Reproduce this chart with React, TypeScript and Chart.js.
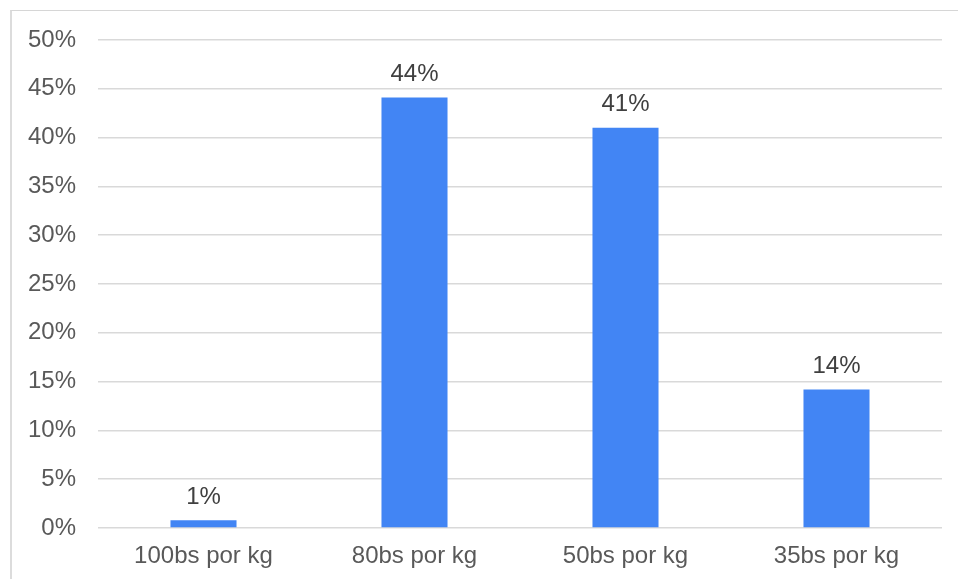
import React, { useEffect, useRef } from "react";
import { Chart, registerables } from "chart.js";

Chart.register(...registerables);

// Share of answers per price bracket
const categories = ["100bs por kg", "80bs por kg", "50bs por kg", "35bs por kg"];
const shares = [0.8, 44.1, 41.0, 14.2];
const yTicks = [0, 5, 10, 15, 20, 25, 30, 35, 40, 45, 50];

const FONT = "'Liberation Sans', Arial, sans-serif";

const valueLabels = {
  id: "valueLabels",
  afterDatasetsDraw(chart: any) {
    const { ctx } = chart;
    const meta = chart.getDatasetMeta(0);
    const data = chart.data.datasets[0].data as number[];
    ctx.save();
    ctx.font = `24px ${FONT}`;
    ctx.fillStyle = "#404040";
    ctx.textAlign = "center";
    ctx.textBaseline = "middle";
    meta.data.forEach((bar: any, i: number) => {
      ctx.fillText(`${Math.round(data[i])}%`, bar.x, bar.y - 23);
    });
    ctx.restore();
  },
};

export default function App() {
  const ref = useRef<HTMLCanvasElement>(null);

  useEffect(() => {
    if (!ref.current) return;
    const chart = new Chart(ref.current, {
      type: "bar",
      data: {
        labels: categories,
        datasets: [
          {
            data: shares,
            backgroundColor: "#4285F4",
            borderWidth: 0,
            barPercentage: 0.313,
            categoryPercentage: 1,
          },
        ],
      },
      options: {
        responsive: false,
        animation: false,
        devicePixelRatio: 1,
        layout: { padding: { left: 0, right: 16, top: 40, bottom: 0 } },
        plugins: {
          legend: { display: false },
          tooltip: { enabled: false },
        },
        scales: {
          x: {
            grid: { display: false, drawTicks: false },
            border: { display: false },
            ticks: {
              color: "#595959",
              font: { family: FONT, size: 24 },
              padding: 14,
              maxRotation: 0,
            },
            afterFit: (s: any) => {
              s.height = 51;
            },
          },
          y: {
            min: 0,
            max: 50,
            afterBuildTicks: (s: any) => {
              s.ticks = yTicks.map((v) => ({ value: v }));
            },
            grid: { color: "#d9d9d9", lineWidth: 1.5, drawTicks: false },
            border: { display: false },
            ticks: {
              color: "#595959",
              font: { family: FONT, size: 24 },
              padding: 22,
              callback: (v: any) => `${v}%`,
            },
            afterFit: (s: any) => {
              s.width = 98;
            },
          },
        },
      },
      plugins: [valueLabels],
    });
    return () => chart.destroy();
  }, []);

  return (
    <div
      style={{
        position: "fixed",
        left: 0,
        top: 0,
        width: 958,
        height: 579,
        overflow: "hidden",
        background: "#fff",
      }}
    >
      <div
        style={{
          position: "absolute",
          left: 10,
          top: 10,
          width: 2000,
          height: 2000,
          borderLeft: "2px solid #dcdcdc",
          borderTop: "1px solid #d6d6d6",
        }}
      />
      <canvas
        ref={ref}
        width={958}
        height={579}
        style={{ position: "absolute", left: 0, top: 0 }}
      />
    </div>
  );
}
